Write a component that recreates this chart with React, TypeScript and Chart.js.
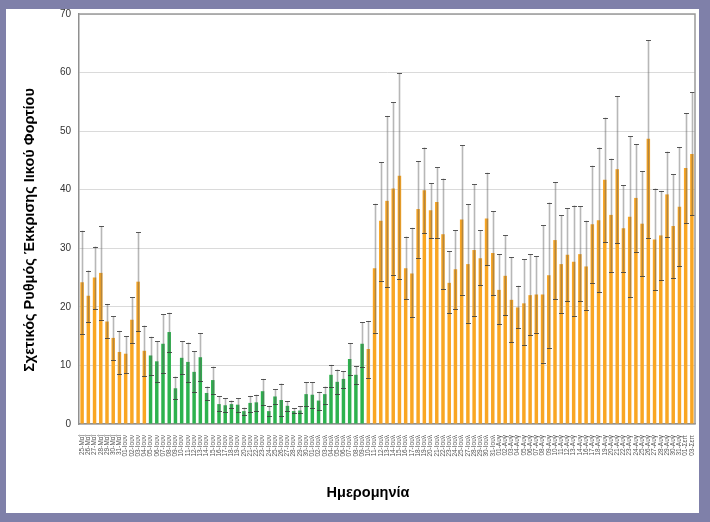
import { useEffect, useRef } from "react";
import { Chart, registerables } from "chart.js";

Chart.register(...registerables);

const dates: string[] = [
  "25-Μαΐ", "26-Μαΐ", "27-Μαΐ", "28-Μαΐ", "29-Μαΐ", "30-Μαΐ", "31-Μαΐ",
  "01-Ιουν", "02-Ιουν", "03-Ιουν", "04-Ιουν", "05-Ιουν", "06-Ιουν", "07-Ιουν", "08-Ιουν", "09-Ιουν", "10-Ιουν",
  "11-Ιουν", "12-Ιουν", "13-Ιουν", "14-Ιουν", "15-Ιουν", "16-Ιουν", "17-Ιουν", "18-Ιουν", "19-Ιουν", "20-Ιουν",
  "21-Ιουν", "22-Ιουν", "23-Ιουν", "24-Ιουν", "25-Ιουν", "26-Ιουν", "27-Ιουν", "28-Ιουν", "29-Ιουν", "30-Ιουν",
  "01-Ιουλ", "02-Ιουλ", "03-Ιουλ", "04-Ιουλ", "05-Ιουλ", "06-Ιουλ", "07-Ιουλ", "08-Ιουλ", "09-Ιουλ", "10-Ιουλ",
  "11-Ιουλ", "12-Ιουλ", "13-Ιουλ", "14-Ιουλ", "15-Ιουλ", "16-Ιουλ", "17-Ιουλ", "18-Ιουλ", "19-Ιουλ", "20-Ιουλ",
  "21-Ιουλ", "22-Ιουλ", "23-Ιουλ", "24-Ιουλ", "25-Ιουλ", "27-Ιουλ", "28-Ιουλ", "29-Ιουλ", "30-Ιουλ", "31-Ιουλ",
  "01-Αυγ", "02-Αυγ", "03-Αυγ", "04-Αυγ", "05-Αυγ", "06-Αυγ", "07-Αυγ", "08-Αυγ", "09-Αυγ", "10-Αυγ",
  "11-Αυγ", "12-Αυγ", "13-Αυγ", "14-Αυγ", "16-Αυγ", "17-Αυγ", "18-Αυγ", "19-Αυγ", "20-Αυγ", "21-Αυγ",
  "22-Αυγ", "23-Αυγ", "24-Αυγ", "25-Αυγ", "26-Αυγ", "27-Αυγ", "28-Αυγ", "29-Αυγ", "30-Αυγ", "31-Αυγ",
  "01-Σεπ", "03-Σεπ",
];

const rate: number[] = [
  24.2, 21.9, 25.0, 25.8, 17.5, 14.7, 12.3, 12.0, 17.8, 24.3, 12.5,
  11.7, 10.7, 13.7, 15.7, 6.1, 11.3, 10.6, 8.9, 11.4, 5.3, 7.5, 3.4, 3.2, 3.4, 3.3, 2.2, 3.6, 3.7,
  5.6, 2.2, 4.7, 4.1, 3.1, 2.2, 2.3, 5.1, 5.0, 4.0, 5.1, 8.4, 7.2, 7.7, 11.1, 8.4, 13.7,
  12.8, 26.6, 34.7, 38.1, 40.2, 42.4, 26.6, 25.7, 36.7, 39.9, 36.5, 37.9, 32.4, 24.1, 26.4, 34.9,
  27.3, 29.7, 28.3, 35.1, 29.2, 22.9, 25.3, 21.2, 19.9, 20.6, 22.0, 22.1, 22.1, 25.4, 31.4, 27.3,
  28.9, 27.7, 29.0, 26.9, 34.1, 34.8, 41.7, 35.7, 43.5, 33.4, 35.4, 38.6, 34.2, 48.7, 31.5, 32.2,
  39.2, 33.8, 37.1, 43.7, 46.1,
];

const upper: number[] = [
  33.0, 26.2, 30.3, 33.8, 20.5, 18.4, 15.9, 15.0, 21.6, 32.7, 16.8,
  14.9, 14.1, 18.7, 19.0, 8.1, 14.1, 13.9, 12.4, 15.5, 6.4, 9.8, 4.7, 4.4, 4.0, 4.4, 2.8, 4.8, 5.0,
  7.7, 3.1, 5.9, 6.9, 3.9, 2.7, 3.0, 7.1, 7.1, 5.5, 6.4, 10.1, 9.3, 9.0, 13.8, 9.9, 17.4,
  17.6, 37.6, 44.7, 52.6, 54.9, 59.9, 32.0, 33.5, 44.9, 47.2, 41.1, 43.8, 41.9, 29.5, 33.1, 47.6,
  37.5, 40.9, 33.1, 42.9, 36.3, 29.0, 32.2, 28.5, 23.6, 28.1, 29.0, 28.6, 33.9, 37.8, 41.3, 35.6,
  36.8, 37.3, 37.2, 34.7, 44.1, 47.2, 52.3, 45.3, 56.0, 40.8, 49.1, 47.8, 43.2, 65.5, 40.2, 39.8,
  46.5, 42.6, 47.3, 53.1, 56.6,
];

const lower: number[] = [
  15.3, 17.4, 19.6, 17.8, 14.7, 10.9, 8.5, 8.7, 13.8, 15.8, 8.2,
  8.4, 7.2, 8.7, 12.3, 4.3, 8.5, 7.1, 5.4, 7.3, 4.1, 5.2, 2.2, 2.0, 2.7, 2.0, 1.5, 2.1, 2.2,
  3.3, 1.4, 3.5, 1.3, 2.3, 1.8, 1.8, 3.1, 2.8, 2.4, 3.5, 6.4, 5.1, 6.2, 8.4, 6.8, 9.8,
  7.9, 15.6, 24.5, 23.4, 25.5, 24.8, 21.3, 18.2, 28.4, 32.6, 31.7, 31.8, 23.0, 18.9, 19.7, 22.1,
  17.3, 18.5, 23.7, 27.1, 22.0, 17.0, 18.6, 14.0, 16.4, 13.5, 15.2, 15.6, 10.5, 13.0, 21.3, 19.0,
  21.0, 18.5, 21.0, 19.5, 24.1, 22.5, 31.0, 26.0, 30.9, 26.0, 21.7, 29.4, 25.2, 31.8, 22.8, 24.6,
  31.9, 24.9, 26.9, 34.3, 35.6,
];

const yTicks: number[] = [0, 10, 20, 30, 40, 50, 60, 70];
const lowPeriodStart = "05-Ιουν";
const lowPeriodEnd = "09-Ιουλ";

const yTitle = "Σχετικός Ρυθμός Έκκρισης Ιικού Φορτίου";
const xTitle = "Ημερομηνία";

const ORANGE = "#f9a623";
const GREEN = "#2db24e";
const FONT = "'Liberation Sans', Arial, sans-serif";

export default function App() {
  const ref = useRef<HTMLCanvasElement | null>(null);

  useEffect(() => {
    if (!ref.current) return;
    const s = dates.indexOf(lowPeriodStart);
    const e = dates.indexOf(lowPeriodEnd);
    const colors = dates.map((_, i) => (i >= s && i <= e ? GREEN : ORANGE));

    const errorBars = {
      id: "errorBars",
      afterDatasetsDraw(chart: any) {
        const ctx = chart.ctx;
        const yScale = chart.scales.y;
        const meta = chart.getDatasetMeta(0);
        ctx.save();
        meta.data.forEach((bar: any, i: number) => {
          const x = Math.round(bar.x) + 0.5;
          const yu = yScale.getPixelForValue(upper[i]);
          const yl = yScale.getPixelForValue(lower[i]);
          ctx.strokeStyle = "rgba(95,95,95,0.45)";
          ctx.lineWidth = 1.6;
          ctx.beginPath();
          ctx.moveTo(x, yu);
          ctx.lineTo(x, yl);
          ctx.stroke();
          ctx.strokeStyle = "rgba(60,60,60,0.85)";
          ctx.lineWidth = 1;
          ctx.beginPath();
          ctx.moveTo(x - 2.5, Math.round(yu) + 0.5);
          ctx.lineTo(x + 2.5, Math.round(yu) + 0.5);
          ctx.moveTo(x - 2.5, Math.round(yl) + 0.5);
          ctx.lineTo(x + 2.5, Math.round(yl) + 0.5);
          ctx.stroke();
        });
        ctx.restore();
      },
    };

    const frameAndTitles = {
      id: "frameAndTitles",
      afterDraw(chart: any) {
        const ctx = chart.ctx;
        const a = chart.chartArea;
        ctx.save();
        ctx.strokeStyle = "#9a9a9a";
        ctx.lineWidth = 1.5;
        ctx.beginPath();
        ctx.moveTo(a.left, a.top);
        ctx.lineTo(a.right, a.top);
        ctx.lineTo(a.right, a.bottom);
        ctx.stroke();
        ctx.fillStyle = "#000";
        ctx.font = `bold 14.5px ${FONT}`;
        ctx.textAlign = "center";
        ctx.textBaseline = "middle";
        ctx.fillText(xTitle, 362, 484);
        ctx.translate(24, 221);
        ctx.rotate(-Math.PI / 2);
        ctx.fillText(yTitle, 0, 0);
        ctx.restore();
      },
    };

    const chart = new Chart(ref.current, {
      type: "bar",
      data: {
        labels: dates,
        datasets: [
          {
            data: rate,
            backgroundColor: colors,
            borderWidth: 0,
            barPercentage: 0.56,
            categoryPercentage: 1.0,
          },
        ],
      },
      options: {
        responsive: false,
        animation: false,
        devicePixelRatio: 1,
        layout: { padding: { left: 0, right: 4, top: 5, bottom: 0 } },
        plugins: { legend: { display: false }, tooltip: { enabled: false } },
        scales: {
          x: {
            grid: { display: false },
            border: { display: true, color: "#8f8f8f", width: 1.5 },
            ticks: {
              autoSkip: false,
              minRotation: 90,
              maxRotation: 90,
              padding: 3,
              color: "#555",
              font: { size: 6.5, family: FONT },
            },
            afterFit: (sc: any) => {
              sc.height = 89;
              sc.paddingLeft = 0;
              sc.paddingRight = 0;
            },
          },
          y: {
            min: 0,
            max: 70,
            afterBuildTicks: (sc: any) => {
              sc.ticks = yTicks.map((v) => ({ value: v }));
            },
            ticks: { padding: 8, color: "#333", font: { size: 10, family: FONT, lineHeight: 1 } },
            grid: { color: "#dadada", lineWidth: 1, drawTicks: false },
            border: { display: true, color: "#8f8f8f", width: 1.5 },
            afterFit: (sc: any) => {
              sc.width = 73;
              sc.paddingTop = 0;
              sc.paddingBottom = 0;
            },
          },
        },
      },
      plugins: [errorBars, frameAndTitles],
    });
    return () => chart.destroy();
  }, []);

  return (
    <div
      style={{
        position: "fixed",
        left: 0,
        top: 0,
        width: 710,
        height: 522,
        background: "#7f80a9",
      }}
    >
      <div
        style={{
          position: "absolute",
          left: 6,
          top: 9,
          width: 693,
          height: 504,
          background: "#fff",
        }}
      >
        <canvas ref={ref} width={693} height={504} style={{ display: "block", width: 693, height: 504 }} />
      </div>
    </div>
  );
}
